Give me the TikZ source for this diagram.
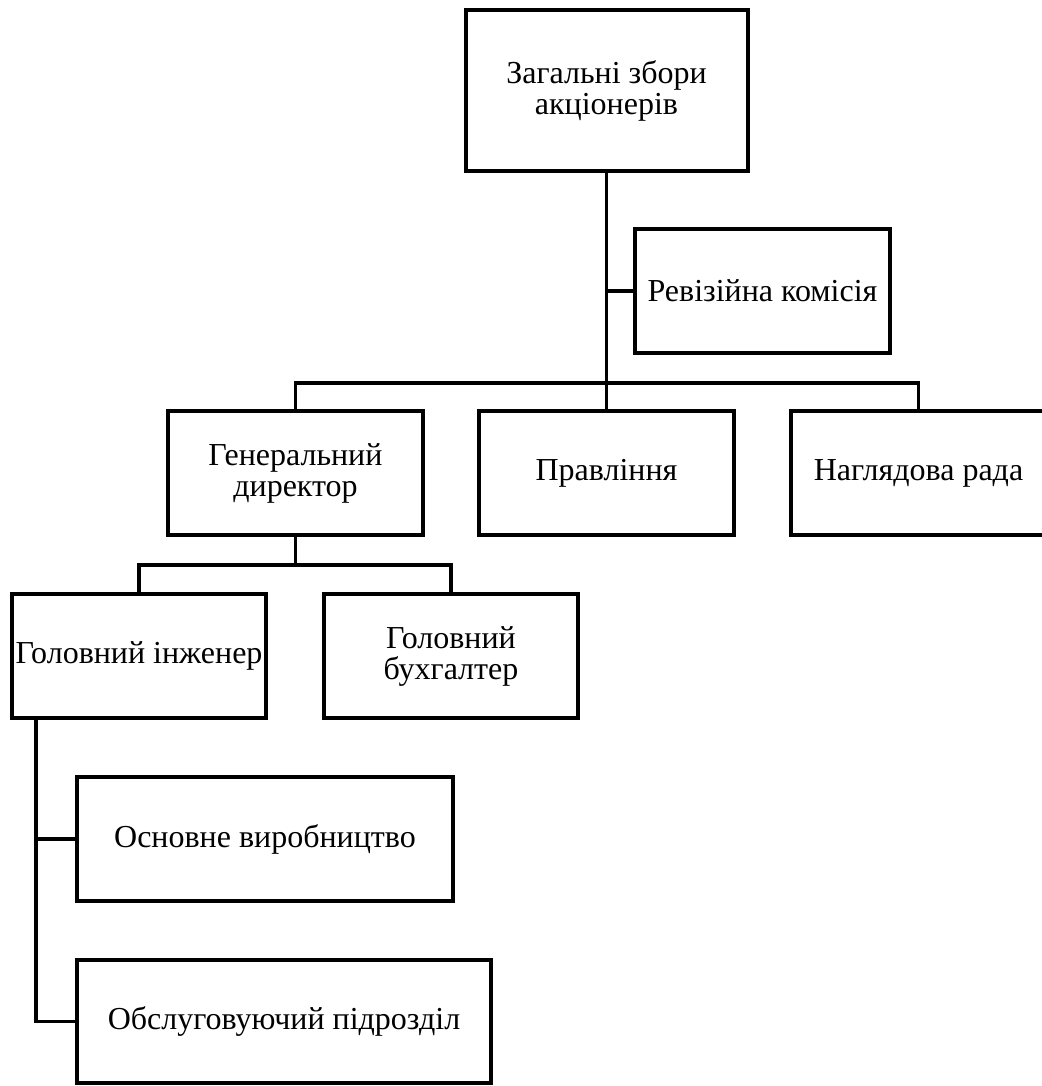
\documentclass[tikz,border=0pt]{standalone}
\usepackage{fontspec}
\setmainfont{Liberation Serif}
\usepackage{tikz}
\usetikzlibrary{calc}

\begin{document}
\begin{tikzpicture}[ x=1pt, y=-1pt,
      unit box/.style={ draw, rectangle, line width=4pt, inner sep=0pt,
        minimum width=255pt, minimum height=124pt, align=center,
        font=\fontsize{32}{31}\selectfont},
      link/.style={ line width=3.2pt},
      every node/.style={color=black}
      ]
      \useasboundingbox (0,0) rectangle (1041,1086);

      % top level
      \node[unit box, minimum width=282pt, minimum height=161pt] (ZB) at (606.5,90.5) {Загальні збори\\акціонерів};
      \node[unit box] (RK) at (762.5,291) {Ревізійна комісія};

      % second level
      \node[unit box] (GD) at (295.5,473) {Генеральний\\директор};
      \node[unit box] (PR) at (606.5,473) {Правління};
      \node[unit box] (NR) at (918.5,473) {Наглядова рада};

      % third level
      \node[unit box, minimum width=254pt] (GI) at (139,656) {Головний інженер};
      \node[unit box, minimum width=254pt] (GB) at (451,656) {Головний\\бухгалтер};

      % departments
      \node[unit box, minimum width=376pt] (OV) at (265,839) {Основне виробництво};
      \node[unit box, minimum width=414pt, minimum height=123pt] (OP) at (284,1021.5) {Обслуговуючий підрозділ};

      % links
      \coordinate (bus1) at (606.5,383);
      \coordinate (bus2) at (295.5,565);
      \coordinate (trunk) at (36,720);
      \draw[link] (ZB.south) -- (PR.north);
      \draw[link] (RK.west) -- (RK.west -| PR.north);
      \draw[link] (GD.north) |- (bus1) -| (NR.north);
      \draw[link] (GD.south) -- (bus2);
      \draw[link] (GI.north) |- (bus2) -| (GB.north);
      \draw[link] (trunk) |- (OP.west);
      \draw[link] (OV.west) -- (OV.west -| trunk);
    \end{tikzpicture}
\end{document}
